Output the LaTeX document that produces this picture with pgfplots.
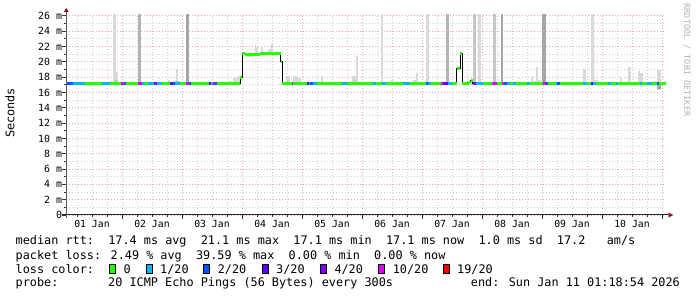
\documentclass[border=0pt]{standalone}
\usepackage{fontspec}
\setmainfont{DejaVu Sans Mono}
\usepackage{pgfplots}
\pgfplotsset{compat=1.18}
\definecolor{lcA}{HTML}{26FF00}
\definecolor{lcB}{HTML}{00B8FF}
\definecolor{lcC}{HTML}{0059FF}
\definecolor{lcD}{HTML}{5E00FF}
\definecolor{lcE}{HTML}{7E00FF}
\definecolor{lcF}{HTML}{DD00FF}
\definecolor{lcG}{HTML}{FF0000}
\definecolor{gridred}{RGB}{232,168,168}
\definecolor{gridgray}{RGB}{205,205,205}
\definecolor{arrowred}{RGB}{140,28,28}
\definecolor{sl}{HTML}{DADADA}
\definecolor{sm}{HTML}{C6C6C6}
\definecolor{smd}{HTML}{B4B4B4}
\definecolor{sd}{HTML}{A6A6A6}
\newcommand\smoke[5]{\addplot[fill=#5,draw=none,forget plot] coordinates {(#1,#3) (#2,#3) (#2,#4) (#1,#4)} -- cycle;}
\newcommand\lfont{\fontsize{11.83bp}{14bp}\selectfont}
\newcommand\lbox[3]{\filldraw[fill=#2, draw=black, line width=0.8bp] (#1bp+0.4bp,23.4bp) rectangle (#1bp+6.3bp,32.4bp);
  \node[anchor=base west, inner sep=0pt] at (#1bp+14.3bp,24bp) {\lfont #3};}
\begin{document}
\begin{tikzpicture}
\useasboundingbox (0,0) rectangle (697bp,297bp);
\begin{axis}[
  name=ax,
  at={(66.25bp,82bp)}, anchor=south west,
  scale only axis, width=600bp, height=200bp,
  xmin=1.7, xmax=241.7, ymin=0, ymax=26.13,
  axis x line*=bottom, axis y line*=left,
  axis line style={draw=none},
  tick align=outside,
  xtick={24,48,...,240}, xticklabels={},
  minor xtick={6,12,18,30,36,42,54,60,66,78,84,90,102,108,114,126,132,138,150,156,162,174,180,186,198,204,210,222,228,234},
  extra x ticks={12,36,60,84,108,132,156,180,204,228},
  extra x tick labels={01 Jan,02 Jan,03 Jan,04 Jan,05 Jan,06 Jan,07 Jan,08 Jan,09 Jan,10 Jan},
  extra x tick style={grid=none, major tick length=0pt},
  xticklabel style={font=\fontsize{9.8bp}{10bp}\selectfont, inner sep=0pt, anchor=north, yshift=-5bp},
  ytick={0,2,...,26},
  yticklabels={0,2 m,4 m,6 m,8 m,10 m,12 m,14 m,16 m,18 m,20 m,22 m,24 m,26 m},
  yticklabel style={font=\fontsize{9.9bp}{10bp}\selectfont, inner sep=0pt, anchor=east},
  minor ytick={1,3,...,25},
  xmajorgrids, xminorgrids, ymajorgrids, yminorgrids,
  major grid style={gridred, line width=1bp, dash pattern=on 1bp off 2bp},
  minor grid style={gridgray, line width=1bp, dash pattern=on 1bp off 2bp},
  major tick length=4bp, minor tick length=2bp,
  tick style={black!80, line width=1bp},
  unbounded coords=jump,
]
% smoke: tall outliers
\smoke{20.4}{21.6}{17.2}{27}{sl}
\smoke{30.4}{31.6}{17.2}{27}{smd}
\smoke{49.6}{50.6}{17.2}{27}{sd}
\smoke{127.4}{128.3}{17.2}{27}{sl}
\smoke{145.6}{146.6}{17.2}{27}{sl}
\smoke{153.6}{154.6}{17.2}{27}{smd}
\smoke{164.3}{165.6}{17.2}{27}{sm}
\smoke{166.2}{167.5}{17.2}{27}{sl}
\smoke{172.2}{173.6}{17.2}{27}{sm}
\smoke{175.4}{176.5}{17.2}{27}{sd}
\smoke{192.1}{193.6}{17.2}{27}{sd}
\smoke{211.6}{212.6}{17.2}{27}{sl}
% smoke: small
\smoke{21.6}{22.4}{17.2}{18.7}{sl}
\smoke{20.8}{22.4}{17.2}{17.6}{sm}
\smoke{19.2}{20.4}{17.2}{17.5}{sl}
\smoke{42.4}{43.2}{17.2}{17.6}{sl}
\smoke{45.5}{46.4}{17.2}{19.1}{sl}
\smoke{44.8}{47.2}{17.2}{17.5}{sm}
\smoke{10.4}{13.2}{16.8}{17.2}{sl}
\smoke{66.5}{67.9}{17.2}{17.5}{sl}
\smoke{68.3}{70.5}{17.2}{17.9}{sl}
\smoke{70.5}{71.2}{17.2}{18.1}{sl}
\smoke{73.9}{76.5}{20.6}{21.1}{sl}
\smoke{77.3}{78.5}{21.1}{22.0}{sl}
\smoke{79.5}{80.3}{21.1}{22.0}{sl}
\smoke{82.5}{83.6}{21.1}{21.7}{sl}
\smoke{83.6}{84.3}{21.1}{22.4}{sl}
\smoke{89.6}{91.2}{17.2}{18.1}{sl}
\smoke{90.0}{90.8}{17.2}{17.6}{sm}
\smoke{92.5}{93.9}{17.2}{18.1}{sl}
\smoke{93.9}{95.5}{17.2}{17.9}{sl}
\smoke{103.6}{104.3}{17.2}{18.1}{sl}
\smoke{115.9}{117.9}{17.2}{18.1}{sl}
\smoke{116.6}{117.9}{17.2}{17.7}{sm}
\smoke{117.5}{118.3}{17.2}{20.8}{sl}
\smoke{131.6}{132.3}{17.2}{17.6}{sl}
\smoke{140.5}{141.9}{17.2}{17.6}{sl}
\smoke{141.6}{142.5}{17.2}{18.6}{sl}
\smoke{162.0}{164.3}{17.2}{17.5}{sm}
\smoke{187.6}{188.5}{17.2}{18.1}{sl}
\smoke{188.5}{189.5}{17.2}{17.5}{sl}
\smoke{189.5}{190.3}{17.2}{19.4}{sl}
\smoke{190.3}{191.6}{17.2}{17.6}{sl}
\smoke{208.3}{209.5}{17.2}{19.1}{sl}
\smoke{212.5}{214.3}{17.2}{17.6}{sl}
\smoke{223.3}{224.1}{17.2}{18.0}{sl}
\smoke{226.3}{227.6}{17.2}{19.4}{sl}
\smoke{230.3}{231.2}{17.2}{18.8}{sl}
\smoke{231.2}{232.3}{16.7}{18.6}{sl}
\smoke{234.0}{235.6}{16.9}{17.2}{sl}
\smoke{235.9}{237.9}{16.8}{17.5}{sl}
\smoke{237.9}{239.5}{16.3}{18.9}{sl}
\smoke{237.9}{239.5}{16.5}{17.4}{sd}
% median (black steps)
\addplot[const plot, black, line width=1bp, forget plot] coordinates {
 (1.7,17.15) (71.2,17.9) (72.1,21.1) (73.3,21.0) (79.2,21.1) (87.5,20.0) (88.1,17.15)
 (157.9,19.2) (159.2,21.1) (160.1,17.15) (162.8,17.35) (163.5,17.55) (164.3,17.15) (241.7,17.15)};
% median colored by loss: 0
\addplot[lcA, line width=3bp, forget plot] coordinates {
 (1.7,17.15) (71.2,17.15) (71.2,nan)
 (71.2,17.9) (72.1,17.9) (72.1,nan)
 (72.1,21.1) (73.3,21.1) (73.3,nan)
 (73.3,21.0) (79.2,21.0) (79.2,nan)
 (79.2,21.1) (87.5,21.1) (87.5,nan)
 (87.5,20.0) (88.1,20.0) (88.1,nan)
 (88.1,17.15) (157.9,17.15) (157.9,nan)
 (157.9,19.2) (159.2,19.2) (159.2,nan)
 (159.2,21.1) (160.1,21.1) (160.1,nan)
 (160.1,17.15) (162.8,17.15) (162.8,nan)
 (162.8,17.35) (163.5,17.35) (163.5,nan)
 (163.5,17.55) (164.3,17.55) (164.3,nan)
 (164.3,17.15) (241.7,17.15)};
% 1/20
\addplot[lcB, line width=3bp, forget plot] coordinates {
 (4.4,17.15) (9.3,17.15) (9.3,nan) (16,17.15) (19.3,17.15) (19.3,nan)
 (32,17.15) (33.3,17.15) (33.3,nan) (34.4,17.15) (36.7,17.15) (36.7,nan)
 (38,17.15) (40,17.15) (40,nan) (45.3,17.15) (47.3,17.15) (47.3,nan)
 (59.7,17.15) (60.5,17.15) (60.5,nan) (98.7,17.15) (99.2,17.15) (99.2,nan)
 (100.5,17.15) (101.9,17.15) (101.9,nan) (111.9,17.15) (113.9,17.15) (113.9,nan)
 (124.5,17.15) (125.6,17.15) (125.6,nan) (127.9,17.15) (129.6,17.15) (129.6,nan)
 (136.5,17.15) (139.2,17.15) (139.2,nan) (146.4,17.15) (147.5,17.15) (147.5,nan)
 (154.5,17.15) (155.9,17.15) (155.9,nan) (165.6,17.15) (168.5,17.15) (168.5,nan)
 (177.9,17.15) (179.2,17.15) (179.2,nan) (180.5,17.15) (181.6,17.15) (181.6,nan)
 (185.9,17.15) (187.2,17.15) (187.2,nan) (197.5,17.15) (198,17.15) (198,nan)
 (208.5,17.15) (209.9,17.15) (209.9,nan) (212.5,17.15) (213.5,17.15) (213.5,nan)
 (218.5,17.15) (219.6,17.15) (219.6,nan) (221.5,17.15) (222.5,17.15) (222.5,nan)
 (231.2,17.15) (231.9,17.15) (231.9,nan) (233.9,17.15) (235.9,17.15)};
% 2/20
\addplot[lcC, line width=3bp, forget plot] coordinates {
 (2.0,17.15) (4.4,17.15) (4.4,nan) (24.7,17.15) (25.6,17.15) (25.6,nan)
 (44.4,17.15) (45.3,17.15) (45.3,nan) (50.7,17.15) (51.7,17.15) (51.7,nan)
 (61.2,17.15) (62.0,17.15) (62.0,nan) (99.2,17.15) (100.5,17.15) (100.5,nan)
 (145.6,17.15) (146.4,17.15) (146.4,nan) (176.8,17.15) (177.9,17.15) (177.9,nan)
 (193.6,17.15) (194.3,17.15) (194.3,nan) (198,17.15) (199.2,17.15) (199.2,nan)
 (237.9,17.15) (238.8,17.15)};
% 3/20
\addplot[lcD, line width=3bp, forget plot] coordinates {
 (43.3,17.15) (44.4,17.15) (44.4,nan) (152.5,17.15) (154.5,17.15)};
% 4/20
\addplot[lcE, line width=3bp, forget plot] coordinates {
 (36.7,17.15) (38,17.15) (38,nan) (58.7,17.15) (59.7,17.15) (59.7,nan)
 (97.9,17.15) (98.7,17.15) (98.7,nan) (164.5,17.15) (165.6,17.15) (165.6,nan)
 (211.6,17.15) (212.5,17.15)};
% 10/20
\addplot[lcF, line width=3bp, forget plot] coordinates {
 (23.7,17.15) (24.7,17.15) (24.7,nan) (30.4,17.15) (32,17.15) (32,nan)
 (49.6,17.15) (50.7,17.15) (50.7,nan) (60.5,17.15) (61.2,17.15) (61.2,nan)
 (91.9,17.15) (92.5,17.15) (92.5,nan) (151.6,17.15) (152.5,17.15) (152.5,nan)
 (171.9,17.15) (173.9,17.15) (173.9,nan) (175.9,17.15) (176.8,17.15) (176.8,nan)
 (192.5,17.15) (193.6,17.15)};
\end{axis}
% axis lines with arrows
\draw[black!85, line width=1bp] ([xshift=-4bp]ax.south west) -- ([xshift=2bp]ax.south east);
\fill[arrowred] ([xshift=2bp,yshift=-2.5bp]ax.south east) -- ([xshift=7bp]ax.south east) -- ([xshift=2bp,yshift=2.5bp]ax.south east) -- cycle;
\draw[black!65, line width=1bp] ([yshift=-3.5bp]ax.south west) -- ([yshift=3bp]ax.north west);
\fill[arrowred] ([xshift=-2.5bp,yshift=3bp]ax.north west) -- ([yshift=7bp]ax.north west) -- ([xshift=2.5bp,yshift=3bp]ax.north west) -- cycle;
% y label
\node[rotate=90, inner sep=0pt] at (10bp,184bp) {\lfont Seconds};
% watermark
\node[rotate=-90, inner sep=0pt, text=black!30] at (687bp,237bp) {\fontsize{8.5bp}{9bp}\selectfont RRDTOOL / TOBI OETIKER};
% legend
\node[anchor=base west, inner sep=0pt] at (15.5bp,52bp) {\lfont median rtt:~~17.4 ms avg~~21.1 ms max~~17.1 ms min~~17.1 ms now~~1.0 ms sd~~17.2~~~am/s};
\node[anchor=base west, inner sep=0pt] at (15.5bp,38bp) {\lfont packet loss: 2.49 \% avg~~39.59 \% max~~0.00 \% min~~0.00 \% now};
\node[anchor=base west, inner sep=0pt] at (15.5bp,24bp) {\lfont loss color:};
\lbox{109}{lcA}{0}
\lbox{145.7}{lcB}{1/20}
\lbox{203.3}{lcC}{2/20}
\lbox{261.7}{lcD}{3/20}
\lbox{320}{lcE}{4/20}
\lbox{378.3}{lcF}{10/20}
\lbox{442.7}{lcG}{19/20}
\node[anchor=base west, inner sep=0pt] at (15.5bp,11bp) {\lfont probe:};
\node[anchor=base west, inner sep=0pt] at (108bp,11bp) {\lfont 20 ICMP Echo Pings (56 Bytes) every 300s};
\node[anchor=base east, inner sep=0pt] at (680bp,11bp) {\lfont end: Sun Jan 11 01:18:54 2026};
\end{tikzpicture}
\end{document}
